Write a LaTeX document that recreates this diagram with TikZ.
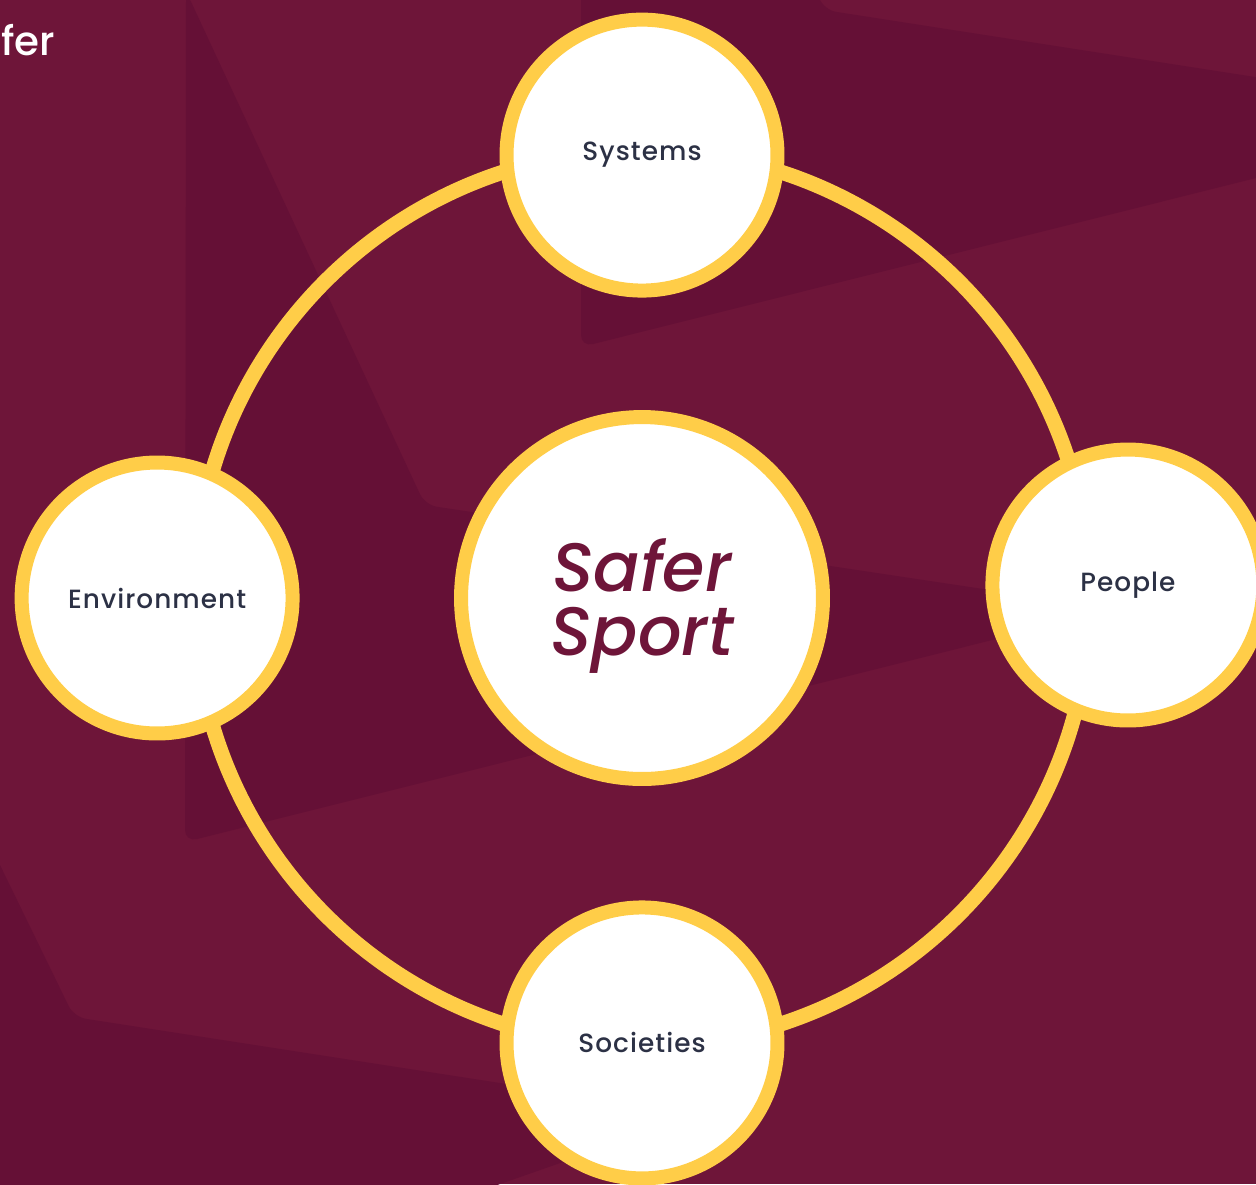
\documentclass[tikz,border=0pt]{standalone}
\usepackage{fontspec}
\setmainfont{Poppins}[UprightFont=* Medium, ItalicFont=* Medium Italic]
\usetikzlibrary{positioning}
\definecolor{wine}{HTML}{6E1539}
\definecolor{winedark}{HTML}{651036}
\definecolor{gold}{HTML}{FFCD48}
\definecolor{slate}{HTML}{2C3145}

\begin{document}
\begin{tikzpicture}[
    x=0.02cm, y=-0.02cm,
    on grid,
    topic/.style={draw=gold, circle, line width=0.28cm, fill=white,
                  minimum size=5.42cm, inner sep=0pt, text=slate,
                  font=\fontsize{15}{18}\selectfont\addfontfeatures{LetterSpace=4}},
    core/.style={topic, minimum size=7.24cm},
    motto/.style={text=wine, align=center, inner sep=0pt,
                  font=\fontsize{39}{36}\selectfont\itshape},
    ring/.style={draw=gold, line width=0.3cm},
    shade/.style={fill=winedark, rounded corners=0.24cm}
  ]
  % backdrop
  \useasboundingbox (0,0) rectangle (1256,1184);
  \fill[wine] (0,0) rectangle (1256,1184);
  \fill[shade] (186,-9) -- (425,505) -- (1116,609) -- (185,842) -- cycle;
  \fill[shade] (581,-20) -- (812,-20) -- (824,10) -- (1300,84)
    -- (1300,167) -- (581,347) -- cycle;
  \fill[shade] (-20,824) -- (74,1017) -- (700,1114) -- (443,1204)
    -- (-20,1204) -- cycle;
  \node[anchor=base west, inner sep=0pt, text=white,
        font=\fontsize{23}{23}\selectfont] (title) at (1,55) {fer};

  % centre and ring
  \node[core] (hub) at (642,598) {};
  \node[motto] (safer) at ([yshift=-0.16cm]hub.center) {Safer\\Sport};
  \draw[ring] (hub.center) circle[radius=8.96cm];

  \node[topic, above=8.86cm of hub] (systems) {Systems};
  \node[topic, above right=0.26cm and 9.72cm of hub] (people) {People};
  \node[topic, below=8.9cm of hub] (societies) {Societies};
  \node[topic, left=9.7cm of hub] (environment) {Environment};
\end{tikzpicture}
\end{document}
